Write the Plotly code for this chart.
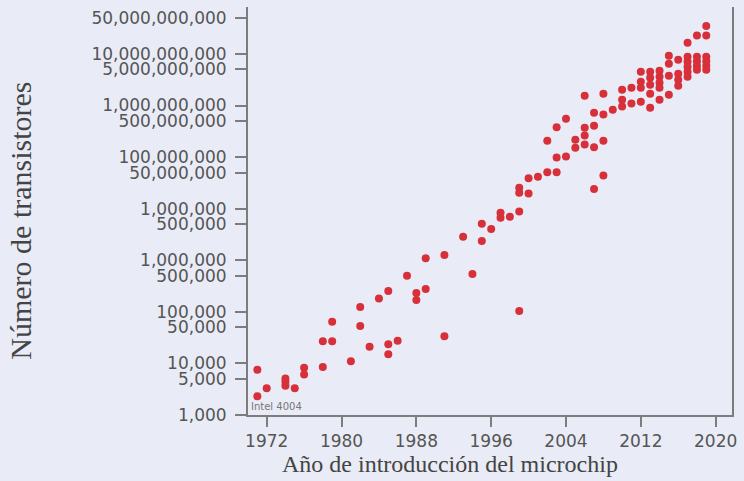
import plotly.graph_objects as go

# ---- data ----
years = [
    1971, 1971, 1972, 1974, 1974, 1974, 1975, 1976, 1976, 1978, 1978, 1979, 1979,
    1981, 1982, 1982, 1983, 1984, 1985, 1985, 1985, 1986, 1987, 1988, 1988,
    1989, 1989, 1991, 1991, 1993, 1994, 1995, 1995, 1996, 1997, 1997, 1998,
    1999, 1999, 1999, 1999, 2000, 2000, 2001, 2002, 2002, 2003, 2003, 2003,
    2004, 2004, 2005, 2005, 2006, 2006, 2006, 2006, 2007, 2007, 2007, 2007,
    2008, 2008, 2008, 2008, 2009, 2010, 2010, 2010, 2011, 2011,
    2012, 2012, 2012, 2012, 2013, 2013, 2013, 2013, 2013,
    2014, 2014, 2014, 2014, 2014, 2015, 2015, 2015, 2015,
    2016, 2016, 2016, 2016, 2017, 2017, 2017, 2017, 2017, 2017,
    2018, 2018, 2018, 2018, 2018, 2019, 2019, 2019, 2019, 2019, 2019,
]
transistors = [
    7500, 2300, 3300, 5100, 4400, 3700, 3300, 8200, 6100, 8500, 27000, 27000, 64000,
    11000, 124000, 53000, 21000, 181000, 253000, 23600, 15100, 27400, 503000, 232000, 170000,
    277000, 1090000, 1260000, 33700, 2860000, 541000, 5100000, 2350000, 4050000, 8300000, 6700000, 7000000,
    8800000, 25400000, 20300000, 104000, 19700000, 38900000, 41400000, 50800000, 208000000, 50800000, 97700000, 377000000,
    103000000, 556000000, 218000000, 151000000, 372000000, 261000000, 175000000, 1550000000, 406000000, 155000000, 24000000, 726000000,
    208000000, 43900000, 673000000, 1690000000, 830000000, 2020000000, 1300000000, 961000000, 2210000000, 1100000000,
    4510000000, 2880000000, 2210000000, 1180000000, 4510000000, 3450000000, 2520000000, 1690000000, 906000000,
    4710000000, 3610000000, 2760000000, 2210000000, 1300000000, 9190000000, 6440000000, 3770000000, 1620000000,
    7690000000, 4120000000, 3150000000, 2420000000, 16400000000, 8790000000, 7030000000, 5620000000, 4510000000, 3610000000,
    22700000000, 8790000000, 7190000000, 5890000000, 4930000000, 34900000000, 22700000000, 8790000000, 7190000000, 5890000000, 4930000000,
]

x_ticks = [1972, 1980, 1988, 1996, 2004, 2012, 2020]
y_tickvals = [1e3, 5e3, 1e4, 5e4, 1e5, 5e5, 1e6, 5e6, 1e7, 5e7, 1e8, 5e8, 1e9, 5e9, 1e10, 5e10]
y_ticktext = ["1,000", "5,000", "10,000", "50,000", "100,000", "500,000", "1,000,000",
              "500,000", "1,000,000", "50,000,000", "100,000,000", "500,000,000",
              "1,000,000,000", "5,000,000,000", "10,000,000,000", "50,000,000,000"]

BG = "#e9ecf6"
AXIS = "#7d7d7d"
TICKFONT = dict(family="DejaVu Sans", size=17, color="#555555")

fig = go.Figure()
fig.add_trace(go.Scatter(
    x=years, y=transistors, mode="markers",
    marker=dict(color="#d8303a", size=8, line=dict(width=0)),
    showlegend=False, hoverinfo="x+y",
))

fig.update_layout(
    width=744, height=481,
    margin=dict(l=248, r=9, t=7, b=66),
    paper_bgcolor=BG, plot_bgcolor=BG,
    xaxis=dict(
        range=[1970.0, 2021.75], tickvals=x_ticks, ticks="outside", ticklen=10,
        tickwidth=2, tickcolor=AXIS, showline=True, linecolor=AXIS, linewidth=2,
        showgrid=False, zeroline=False, tickfont=TICKFONT, mirror=False,
    ),
    yaxis=dict(
        type="log", range=[3, 10.91], tickvals=y_tickvals, ticktext=y_ticktext,
        ticks="outside", ticklen=11, tickwidth=2, tickcolor=AXIS,
        showline=True, linecolor=AXIS, linewidth=2, mirror=True,
        showgrid=False, zeroline=False, tickfont=TICKFONT, ticklabelstandoff=5,
    ),
    annotations=[
        dict(text="Intel 4004", xref="x", x=1970.15, yref="paper", y=0, yanchor="bottom",
             xanchor="left", yshift=1, showarrow=False,
             font=dict(family="DejaVu Sans", size=10, color="#777777")),
        dict(text="Número de transistores", xref="paper", x=-0.47, yref="paper", y=0.475,
             textangle=-90, showarrow=False, xanchor="center", yanchor="middle",
             font=dict(family="Liberation Serif", size=30, color="#444444")),
        dict(text="Año de introducción del microchip", xref="paper", x=0.417, yref="paper",
             y=-0.12, showarrow=False, xanchor="center", yanchor="middle",
             font=dict(family="Liberation Serif", size=24, color="#444444")),
    ],
)

fig.write_html(
    "out.html",
    config={"displayModeBar": False},
    post_script="document.body.style.margin='0';document.body.style.background='%s';" % BG,
)
